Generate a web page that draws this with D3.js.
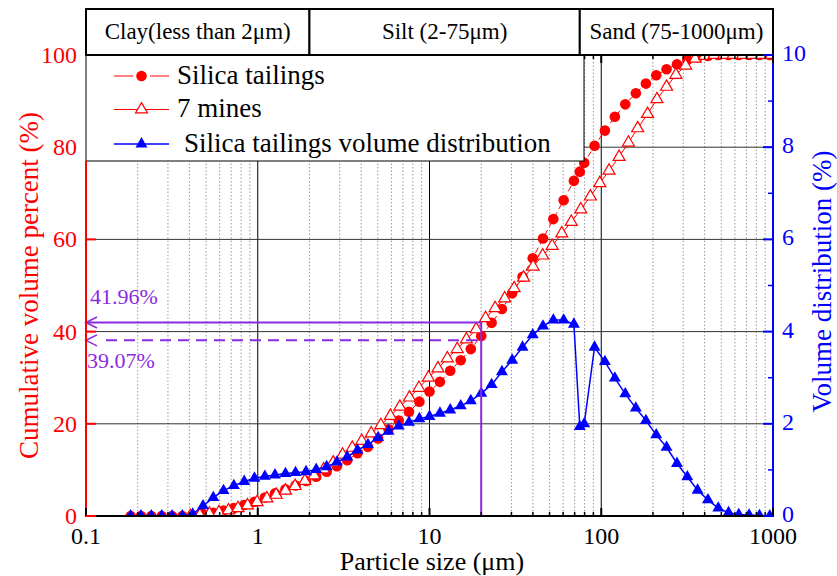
<!DOCTYPE html>
<html><head><meta charset="utf-8">
<script src="https://cdn.jsdelivr.net/npm/d3@7"></script>
<style>body{margin:0;background:#fff}</style>
</head><body>
<svg id="c" width="837" height="576"></svg>
<script>
// ---- data ----
const silicaSize = [0.182,0.209,0.240,0.276,0.317,0.364,0.418,0.480,0.551,0.632,0.726,0.834,0.957,1.10,1.26,1.45,1.66,1.91,2.19,2.52,2.89,3.32,3.81,4.38,5.02,5.77,6.62,7.60,8.73,10.0,11.5,13.2,15.2,17.4,20.0,23.0,26.4,30.3,34.8,39.9,45.8,52.6,60.4,69.3,75.0,79.6,91.4,105,120,138,159,182,209,240,276,317,364,418,480,551,632,726,834,957];
const silicaCum = [0,0,0,0,0,0,0.1,0.4,0.7,1.2,1.7,2.4,3.1,4.0,4.9,5.8,6.6,7.6,8.5,9.6,10.8,12.1,13.6,15.0,16.8,18.8,20.7,22.6,24.8,27.0,29.1,31.5,33.8,36.2,39.07,41.9,44.9,48.3,51.9,55.9,60.2,64.4,68.5,72.7,74.7,76.6,80.3,83.6,86.6,89.3,91.7,93.8,95.6,96.9,98.0,98.9,99.5,99.8,100,100,100,100,100,100];
const silicaDist = [0,0,0,0,0,0,0.04,0.22,0.40,0.55,0.66,0.75,0.82,0.86,0.89,0.92,0.94,0.96,1.01,1.07,1.17,1.28,1.43,1.55,1.70,1.84,1.95,2.03,2.11,2.16,2.23,2.30,2.39,2.50,2.66,2.85,3.13,3.38,3.66,3.93,4.12,4.25,4.25,4.16,1.94,2.00,3.66,3.35,2.99,2.65,2.34,2.07,1.76,1.49,1.14,0.85,0.56,0.35,0.17,0.07,0.03,0.02,0.01,0];
const minesSize = [0.405,0.460,0.523,0.594,0.675,0.767,0.872,0.991,1.13,1.28,1.45,1.65,1.88,2.13,2.42,2.75,3.12,3.55,4.03,4.58,5.21,5.92,6.72,7.64,8.68,9.86,11.2,12.7,14.5,16.4,18.7,21.2,24.1,27.4,31.1,35.3,40.1,45.6,51.8,58.9,66.9,76.0,86.4,98.1,111,127,144,163,186,211,240,272,310,352,400,454,516,586,666,756,859,976];
const minesCum = [0,0.2,0.5,0.8,1.2,1.7,2.3,3.0,3.8,4.6,5.5,6.5,7.6,8.8,10.1,11.6,13.3,14.8,16.3,17.9,19.7,21.7,23.7,25.7,27.8,30.0,32.0,34.2,36.2,38.3,40.5,42.9,45.1,47.2,49.4,51.7,54.1,56.5,58.6,61.3,63.8,66.5,69.3,72.2,74.9,77.9,81.0,84.1,87.2,90.4,93.1,95.7,97.7,99.2,99.8,100,100,100,100,100,100,100];
const xTicks = [0.1,1,10,100,1000];
const xTickLabels = ["0.1","1","10","100","1000"];
const yLeftTicks = [0,20,40,60,80,100];
const yRightTicks = [0,2,4,6,8,10];
const zones = [{from:0.1,to:2,label:"Clay(less than 2μm)"},{from:2,to:75,label:"Silt (2-75μm)"},{from:75,to:1000,label:"Sand (75-1000μm)"}];
const legendLabels = ["Silica tailings","7 mines","Silica tailings volume distribution"];
const annot = {size:20, solid:41.96, dashed:38.1, solidLabel:"41.96%", dashedLabel:"39.07%"};

// ---- layout ----
const L=86, R=773, T=55, B=516, HT=9;
const RED="#ff0000", BLUE="#0000ff", PUR="#8a2be2";
const FONT="Liberation Serif";
const svg=d3.select("#c");
const x=d3.scaleLog().domain([0.1,1000]).range([L,R]);
const yL=d3.scaleLinear().domain([0,100]).range([B,T]);
const yR=d3.scaleLinear().domain([0,10]).range([B,T]);

const minor=[];
[0.1,1,10,100].forEach(d=>{for(let m=2;m<=9;m++)minor.push(d*m);});

// grid
const g=svg.append("g");
g.selectAll(".mg").data(minor).join("line").attr("x1",d=>x(d)).attr("x2",d=>x(d)).attr("y1",T).attr("y2",B)
 .attr("stroke","#999").attr("stroke-width",1).attr("stroke-dasharray","1.5,2");
g.selectAll(".Mg").data([1,10,100]).join("line").attr("x1",d=>x(d)).attr("x2",d=>x(d)).attr("y1",T).attr("y2",B)
 .attr("stroke","#000").attr("stroke-width",1);
g.selectAll(".hg").data([20,40,60,80]).join("line").attr("x1",L).attr("x2",R).attr("y1",d=>yL(d)).attr("y2",d=>yL(d))
 .attr("stroke","#333").attr("stroke-width",1);

// clip
svg.append("clipPath").attr("id","pc").append("rect").attr("x",L).attr("y",T).attr("width",R-L).attr("height",B-T);
const pg=svg.append("g").attr("clip-path","url(#pc)");

const sil=silicaSize.map((s,i)=>({s,c:silicaCum[i],d:silicaDist[i]}));
const mines=minesSize.map((s,i)=>({s,c:minesCum[i]}));
const tri=d3.symbol().type(d3.symbolTriangle).size(62);

// silica cumulative
pg.append("path").datum(sil).attr("d",d3.line().x(d=>x(d.s)).y(d=>yL(d.c)))
 .attr("fill","none").attr("stroke",RED).attr("stroke-width",1).attr("stroke-dasharray","6,4");
pg.selectAll(".sc").data(sil).join("circle").attr("cx",d=>x(d.s)).attr("cy",d=>yL(d.c)).attr("r",5.3).attr("fill",RED);
// 7 mines
pg.append("path").datum(mines).attr("d",d3.line().x(d=>x(d.s)).y(d=>yL(d.c)))
 .attr("fill","none").attr("stroke",RED).attr("stroke-width",1);
pg.selectAll(".mt").data(mines).join("path").attr("d",tri).attr("transform",d=>`translate(${x(d.s)},${yL(d.c)})`)
 .attr("fill","#fff").attr("stroke",RED).attr("stroke-width",1.2);
// distribution
pg.append("path").datum(sil).attr("d",d3.line().x(d=>x(d.s)).y(d=>yR(d.d)))
 .attr("fill","none").attr("stroke",BLUE).attr("stroke-width",1.5);
pg.selectAll(".bt").data(sil).join("path").attr("d",tri).attr("transform",d=>`translate(${x(d.s)},${yR(d.d)})`)
 .attr("fill",BLUE);

// annotations
const ax=x(annot.size);
svg.append("line").attr("x1",ax).attr("x2",ax).attr("y1",B).attr("y2",yL(annot.solid)).attr("stroke",PUR).attr("stroke-width",2);
svg.append("line").attr("x1",L).attr("x2",ax).attr("y1",yL(annot.solid)).attr("y2",yL(annot.solid)).attr("stroke",PUR).attr("stroke-width",2);
svg.append("line").attr("x1",L+20).attr("x2",ax-4).attr("y1",yL(annot.dashed)).attr("y2",yL(annot.dashed)).attr("stroke",PUR).attr("stroke-width",2).attr("stroke-dasharray","11,7");
[annot.solid,annot.dashed].forEach(v=>{
  const yy=yL(v);
  svg.append("path").attr("d",`M${L+11},${yy-5.5}L${L},${yy}L${L+11},${yy+5.5}`).attr("fill","none").attr("stroke",PUR).attr("stroke-width",1.6);
});
svg.append("text").attr("x",90).attr("y",yL(annot.solid)-19).attr("fill",PUR).attr("font-size",22).text(annot.solidLabel);
svg.append("text").attr("x",87).attr("y",yL(annot.dashed)+28).attr("fill",PUR).attr("font-size",22).text(annot.dashedLabel);

// legend
const lg=svg.append("g");
lg.append("rect").attr("x",L).attr("y",T).attr("width",584-L).attr("height",161-T).attr("fill","#fff").attr("stroke","#000").attr("stroke-width",1);
const rows=[76,109.5,144];
lg.append("line").attr("x1",114).attr("x2",133).attr("y1",rows[0]).attr("y2",rows[0]).attr("stroke",RED).attr("stroke-width",1);
lg.append("line").attr("x1",150).attr("x2",169).attr("y1",rows[0]).attr("y2",rows[0]).attr("stroke",RED).attr("stroke-width",1);
lg.append("circle").attr("cx",141.5).attr("cy",rows[0]).attr("r",5.3).attr("fill",RED);
lg.append("line").attr("x1",114).attr("x2",169).attr("y1",rows[1]).attr("y2",rows[1]).attr("stroke",RED).attr("stroke-width",1);
lg.append("path").attr("d",tri).attr("transform",`translate(141.5,${rows[1]})`).attr("fill","#fff").attr("stroke",RED).attr("stroke-width",1.2);
lg.append("line").attr("x1",114).attr("x2",169).attr("y1",rows[2]).attr("y2",rows[2]).attr("stroke",BLUE).attr("stroke-width",1.5);
lg.append("path").attr("d",tri).attr("transform",`translate(141.5,${rows[2]})`).attr("fill",BLUE);
legendLabels.forEach((t,i)=>{
  lg.append("text").attr("x",i===2?184:177).attr("y",rows[i]+7.8).attr("font-size",27).attr("fill","#000").text(t);
});

// header zones
const hg=svg.append("g");
zones.forEach(z=>{
  hg.append("rect").attr("x",x(z.from)).attr("y",HT).attr("width",x(z.to)-x(z.from)).attr("height",T-HT)
   .attr("fill","#fff").attr("stroke","#000").attr("stroke-width",2);
  hg.append("text").attr("x",(x(z.from)+x(z.to))/2).attr("y",39).attr("text-anchor","middle").attr("font-size",23).text(z.label);
});

// axes lines
svg.append("line").attr("x1",L).attr("x2",R).attr("y1",B).attr("y2",B).attr("stroke","#000").attr("stroke-width",2);
svg.append("line").attr("x1",L).attr("x2",L).attr("y1",161).attr("y2",B+1).attr("stroke",RED).attr("stroke-width",2);
svg.append("line").attr("x1",R).attr("x2",R).attr("y1",T).attr("y2",B+1).attr("stroke",BLUE).attr("stroke-width",2);

// x ticks bottom & top
const tk=svg.append("g");
tk.selectAll(".xb").data(xTicks).join("line").attr("x1",d=>x(d)).attr("x2",d=>x(d)).attr("y1",B).attr("y2",B-8).attr("stroke","#000").attr("stroke-width",2);
tk.selectAll(".xbm").data(minor).join("line").attr("x1",d=>x(d)).attr("x2",d=>x(d)).attr("y1",B).attr("y2",B-4).attr("stroke","#000").attr("stroke-width",1.5);
tk.selectAll(".xt").data(xTicks.filter(d=>x(d)>584)).join("line").attr("x1",d=>x(d)).attr("x2",d=>x(d)).attr("y1",T).attr("y2",T+8).attr("stroke","#000").attr("stroke-width",2);
tk.selectAll(".xtm").data(minor.filter(d=>x(d)>584)).join("line").attr("x1",d=>x(d)).attr("x2",d=>x(d)).attr("y1",T).attr("y2",T+4).attr("stroke","#000").attr("stroke-width",1.5);
tk.selectAll(".xl").data(xTicks).join("text").attr("x",d=>x(d)).attr("y",544).attr("text-anchor","middle").attr("font-size",24).text((d,i)=>xTickLabels[i]);
// left
tk.selectAll(".yl").data(yLeftTicks.filter(d=>yL(d)>161)).join("line").attr("x1",L).attr("x2",L+10).attr("y1",d=>yL(d)).attr("y2",d=>yL(d)).attr("stroke",RED).attr("stroke-width",2);
tk.selectAll(".yll").data(yLeftTicks).join("text").attr("x",L-9).attr("y",d=>yL(d)+8).attr("text-anchor","end").attr("font-size",24).attr("fill",RED).text(d=>d);
// right
tk.selectAll(".yr").data(yRightTicks).join("line").attr("x1",R).attr("x2",R-10).attr("y1",d=>yR(d)).attr("y2",d=>yR(d)).attr("stroke",BLUE).attr("stroke-width",2);
tk.selectAll(".yrm").data([1,3,5,7,9]).join("line").attr("x1",R).attr("x2",R-5).attr("y1",d=>yR(d)).attr("y2",d=>yR(d)).attr("stroke",BLUE).attr("stroke-width",1.5);
tk.selectAll(".yrl").data(yRightTicks).join("text").attr("x",R+9).attr("y",d=>yR(d)+6).attr("font-size",24).attr("fill",BLUE).text(d=>d);

// titles
svg.append("text").attr("x",432).attr("y",570).attr("text-anchor","middle").attr("font-size",26).text("Particle size (μm)");
svg.append("text").attr("transform",`translate(38,${(T+B)/2}) rotate(-90)`).attr("text-anchor","middle").attr("font-size",27).attr("fill",RED).text("Cumulative volume percent (%)");
svg.append("text").attr("transform",`translate(831,${(T+B)/2-4}) rotate(-90)`).attr("text-anchor","middle").attr("font-size",27).attr("fill",BLUE).text("Volume distribution (%)");

svg.selectAll("text").attr("font-family",FONT);
</script>
</body></html>
